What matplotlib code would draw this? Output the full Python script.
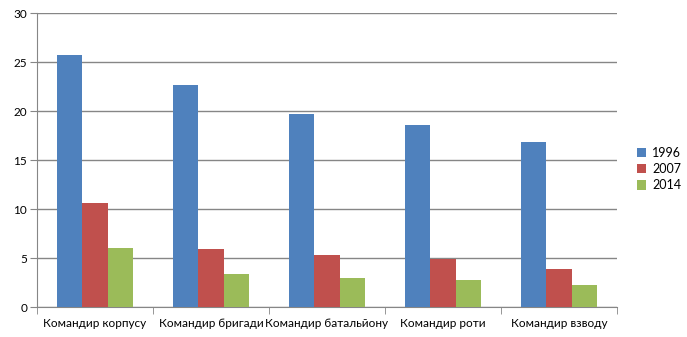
import numpy as np
from matplotlib import pyplot as plt

plt.rcParams['font.family'] = ['Lato', 'DejaVu Sans']

# дані
kategorii = ['Командир корпусу', 'Командир бригади', 'Командир батальйону',
             'Командир роти', 'Командир взводу']
roky = ['1996', '2007', '2014']
val_1996 = [25.7, 22.65, 19.7, 18.6, 16.85]
val_2007 = [10.6, 5.9, 5.3, 4.9, 3.9]
val_2014 = [6.0, 3.4, 3.0, 2.8, 2.25]
kolory = ['#4f81bd', '#c0504d', '#9bbb59']

fig = plt.figure(figsize=(6.87, 3.37), dpi=100)
ax = fig.add_axes([0.0539, 0.089, 0.844, 0.8715])

x = np.arange(len(kategorii))
w = 0.22
for i, (vals, rok) in enumerate(zip([val_1996, val_2007, val_2014], roky)):
    ax.bar(x + (i - 1) * w, vals, w, color=kolory[i], label=rok, zorder=3)

ax.set_xlim(-0.5, len(kategorii) - 0.5)
ax.set_ylim(0, 30)
ax.set_yticks(range(0, 31, 5))
ax.yaxis.grid(True, color='#868686', linewidth=1, zorder=0)

ax.set_xticks(x)
ax.set_xticklabels(kategorii, fontsize=8.5)
ax.tick_params(axis='x', length=0, pad=8)
ax.set_xticks(np.arange(-0.5, len(kategorii)), minor=True)
ax.tick_params(axis='x', which='minor', length=5, color='#868686')
ax.tick_params(axis='y', labelsize=8.5, length=5, color='#868686', pad=2)

for s in ['top', 'right']:
    ax.spines[s].set_visible(False)
for s in ['left', 'bottom']:
    ax.spines[s].set_color('#868686')

ax.legend(loc='center left', bbox_to_anchor=(1.015, 0.47), frameon=False,
          fontsize=9, handlelength=0.75, handleheight=0.75, handletextpad=0.5,
          labelspacing=0.35)

plt.savefig('out.png', dpi=100)
